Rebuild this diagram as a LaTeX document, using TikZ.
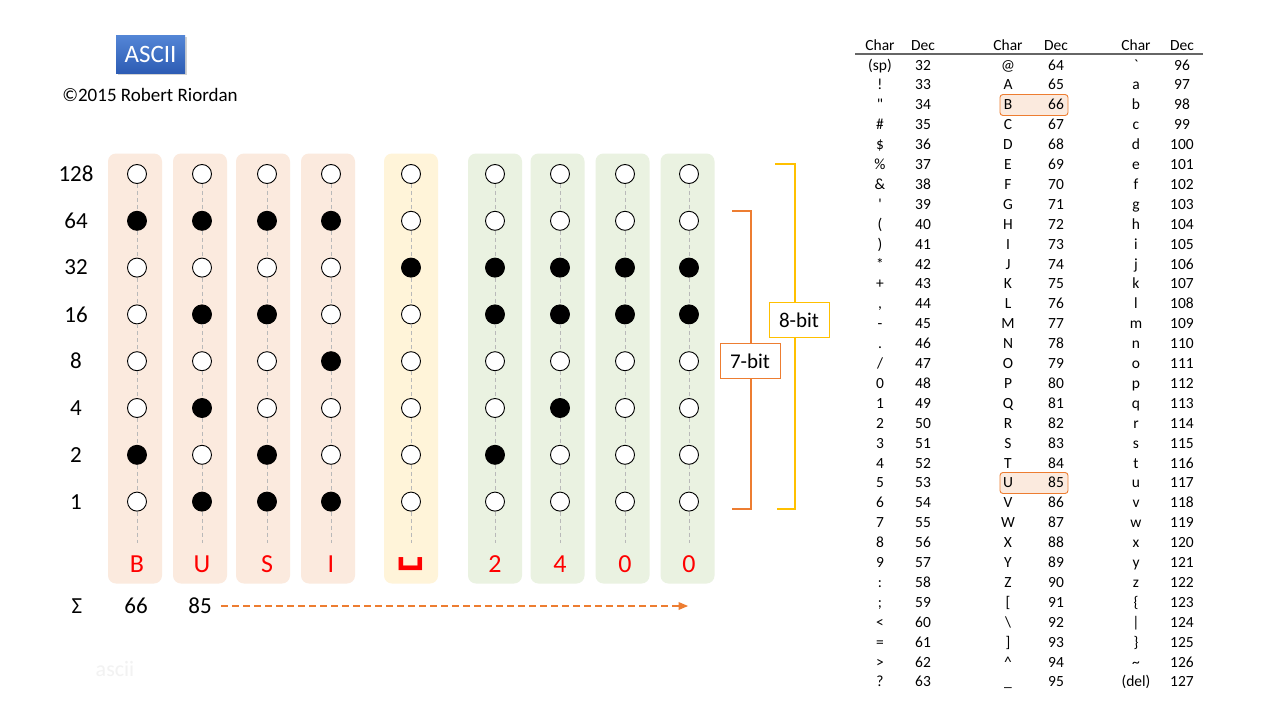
\documentclass[tikz,border=0pt]{standalone}
\usepackage{fontspec}
\setmainfont{Carlito}
\newfontfamily\rawfont{Carlito}
\newfontfamily\symfont{DejaVu Sans}
\usetikzlibrary{arrows,shadows}
\definecolor{peach}{RGB}{251,234,222}
\definecolor{cream}{RGB}{255,244,217}
\definecolor{sage}{RGB}{234,242,225}
\definecolor{accent}{RGB}{237,125,49}
\definecolor{gold}{RGB}{255,192,0}
\definecolor{btntop}{RGB}{84,134,214}
\definecolor{btnbot}{RGB}{45,92,180}
\definecolor{faint}{RGB}{242,242,242}
\definecolor{guidegray}{RGB}{185,185,185}

\begin{document}
\begin{tikzpicture}[x=1pt,y=-1pt,>=triangle 45]
				\tikzstyle{bit0} = [circle,draw=black,fill=white,minimum size=19pt,inner sep=0pt,line width=0.9pt];
				\tikzstyle{bit1} = [bit0,fill=black];
				\tikzstyle{col} = [rounded corners=8pt,minimum width=54pt,minimum height=430pt,inner sep=0pt];
				\tikzstyle{guide} = [guidegray,line width=0.8pt,dash pattern=on 4pt off 3pt];
				\tikzstyle{wgt} = [font=\fontsize{23}{26}\selectfont];
				\tikzstyle{chr} = [text=red,font=\fontsize{26}{30}\selectfont];
				\tikzstyle{cell} = [font=\fontsize{15.5}{18}\selectfont,inner sep=0pt,anchor=base];
				\tikzstyle{hit} = [draw=accent,fill=peach,rounded corners=3pt,line width=0.9pt,minimum width=68pt,minimum height=21pt];
				\tikzstyle{tag} = [fill=white,line width=1pt,minimum width=60pt,minimum height=35pt,font=\fontsize{21}{24}\selectfont];
				\useasboundingbox (0,0) rectangle (1280,720);
				\fill[white] (0,0) rectangle (1280,720);
				% title
				\node[drop shadow={opacity=0.35,shadow xshift=1.5pt,shadow yshift=-2pt},top color=btntop,bottom color=btnbot,minimum width=69pt,minimum height=38pt,text=white,font=\fontsize{25}{28}\selectfont] (btn) at (150.5,54) {ASCII};
				\node[font=\fontsize{19}{23}\selectfont] (copy) at (150,95) {©2015 Robert Riordan};
				\node[text=faint,font=\fontsize{22}{26}\selectfont] (wm) at (115,669) {ascii};
				% bit columns
				\foreach \cx/\bx/\v/\cc/\cl [count=\k] in {137/135/66/peach/B,202/200/85/peach/U,267/263/83/peach/S,331/328/73/peach/I,411/411/32/cream/{\symfont\bfseries\fontsize{40}{42}\selectfont ␣},495/495/50/sage/2,560/557.5/52/sage/4,625/622.5/48/sage/0,689/687.5/48/sage/0}
				{
					\node[col,fill=\cc] (box\k) at (\bx,368.5) {};
					\foreach \w [count=\r] in {128,64,32,16,8,4,2,1}
					{
						\pgfmathtruncatemacro{\b}{mod(floor(\v/\w),2)}
						\node[bit\b] (b\k-\r) at (\cx,{174+46.8*(\r-1)}) {};
					}
					\foreach \r [evaluate=\r as \n using int(\r+1)] in {1,...,7}
						\draw[guide] (b\k-\r) -- (b\k-\n);
					\coordinate (e\k) at (\cx,543);
					\draw[guide] (b\k-8) -- (e\k);
					\node[chr] (l\k) at (\cx,564) {\cl};
				}
				\foreach \w [count=\r] in {128,64,32,16,8,4,2,1}
					\node[wgt] (w\r) at (76,{174+46.8*(\r-1)}) {\w};
				% sums
				\node[wgt] (sig) at (77,606) {Σ};
				\node[wgt] (s66) at (136,606) {66};
				\node[wgt] (s85) at (200,606) {85};
				\coordinate (aend) at (688,606);
				\draw[accent,line width=1.2pt,dash pattern=on 7pt off 4pt,->] ([xshift=6pt]s85.east) -- (aend);
				% brackets
				\coordinate (p1) at (732,211);
				\coordinate (p2) at (751,211);
				\coordinate (p3) at (751,509);
				\coordinate (p4) at (732,509);
				\draw[accent,line width=2.4pt] (p1) -- (p2) -- (p3) -- (p4);
				\node[tag,draw=accent] (sev) at (750,361) {7-bit};
				\coordinate (q1) at (775,164);
				\coordinate (q2) at (795,164);
				\coordinate (q3) at (795,509);
				\coordinate (q4) at (777,509);
				\draw[gold,line width=2.4pt] (q1) -- (q2) -- (q3) -- (q4);
				\node[tag,draw=gold] (eig) at (799,320) {8-bit};
				% table
				\node[hit] (hb) at (1034,105) {};
				\node[hit] (hu) at (1034,483) {};
				\foreach \h/\hx [count=\j] in {Char/880,Dec/923,Char/1008,Dec/1056,Char/1136,Dec/1182}
					\node[cell] (h\j) at (\hx,50) {\h};
				\coordinate (ra) at (855,54);
				\coordinate (rb) at (1203,54);
				\draw[black!60,line width=1.2pt] (ra) -- (rb);
				\foreach \t [count=\i from 0] in {{(sp)},!,{\rawfont"},\#,\$,\%,\&,{\rawfont'},{(},{)},*,+,{,},-,{.},{/},0,1,2,3,4,5,6,7,8,9,:,;,<,=,>,?}
				{
					\pgfmathtruncatemacro{\d}{32+\i}
					\node[cell] (ca\i) at (880,{70+19.9*\i}) {\t};
					\node[cell] (da\i) at (923,{70+19.9*\i}) {\d};
				}
				\foreach \t [count=\i from 0] in {@,A,B,C,D,E,F,G,H,I,J,K,L,M,N,O,P,Q,R,S,T,U,V,W,X,Y,Z,{[},\textbackslash,{]},\textasciicircum,\_}
				{
					\pgfmathtruncatemacro{\d}{64+\i}
					\node[cell] (cb\i) at (1008,{70+19.9*\i}) {\t};
					\node[cell] (db\i) at (1056,{70+19.9*\i}) {\d};
				}
				\foreach \t [count=\i from 0] in {{\rawfont`},a,b,c,d,e,f,g,h,i,j,k,l,m,n,o,p,q,r,s,t,u,v,w,x,y,z,\{,|,\},\textasciitilde,{(del)}}
				{
					\pgfmathtruncatemacro{\d}{96+\i}
					\node[cell] (cc\i) at (1136,{70+19.9*\i}) {\t};
					\node[cell] (dc\i) at (1182,{70+19.9*\i}) {\d};
				}
			\end{tikzpicture}
\end{document}
